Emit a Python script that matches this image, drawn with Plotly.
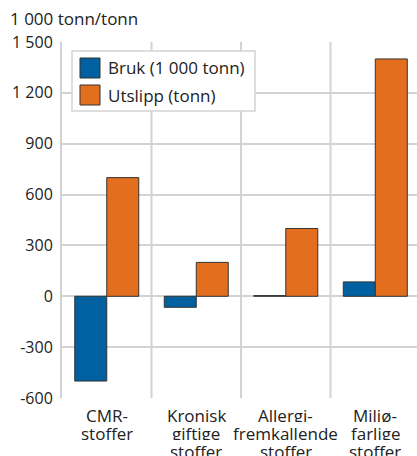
import plotly.graph_objects as go

categories = ["CMR-stoffer", "Kronisk giftige stoffer", "Allergifremkallende stoffer", "Miljøfarlige stoffer"]
category_lines = [["CMR-", "stoffer"], ["Kronisk", "giftige", "stoffer"],
                  ["Allergi-", "fremkallende", "stoffer"], ["Miljø-", "farlige", "stoffer"]]
series_names = ["Bruk (1 000 tonn)", "Utslipp (tonn)"]
bruk = [-500, -65, 4, 85]
utslipp = [700, 200, 400, 1400]
y_tickvals = [-600, -300, 0, 300, 600, 900, 1200, 1500]
y_ticktext = ["-600", "-300", "0", "300", "600", "900", "1 200", "1 500"]
unit_label = "1 000 tonn/tonn"

FONT = "Open Sans, Noto Sans, sans-serif"
GRID = "#d3d3d3"
TXT = "#222222"
COLORS = ["#0060a0", "#e36f1e"]
W, H = 417, 456
L, R, T, B = 62, 0, 42, 58
PW, PH = W - L - R, H - T - B


def px(xp):
    """window pixel x -> paper x"""
    return (xp - L) / PW


def py(yp):
    """window pixel y -> paper y"""
    return (H - B - yp) / PH


fig = go.Figure()
for name, vals, col in zip(series_names, [bruk, utslipp], COLORS):
    fig.add_trace(go.Bar(x=categories, y=vals, name=name, showlegend=False,
                         marker=dict(color=col, line=dict(color="#333333", width=1))))

# vertical separators between categories
for xv in [0.5, 1.5, 2.5, 3.5]:
    fig.add_shape(type="line", xref="x", yref="paper", x0=xv, x1=xv, y0=0, y1=1,
                  line=dict(color=GRID, width=2), layer="below")

# category labels, one annotation per line for tight line spacing
for cat, lines in zip(categories, category_lines):
    for i, line in enumerate(lines):
        fig.add_annotation(text=line, xref="x", yref="paper", x=cat, y=0,
                           xanchor="center", yanchor="middle", yshift=-17 - 18 * i,
                           height=14, borderpad=0, showarrow=False,
                           font=dict(family=FONT, size=17, color=TXT))

# unit label
fig.add_annotation(text=unit_label, xref="paper", yref="paper", x=px(8), y=py(19),
                   xanchor="left", yanchor="middle", showarrow=False,
                   font=dict(family=FONT, size=17, color=TXT))

# custom legend
fig.add_shape(type="rect", xref="paper", yref="paper", x0=px(72), x1=px(255), y0=py(111), y1=py(51),
              fillcolor="white", line=dict(color=GRID, width=1.5), layer="above")
for k, (name, col) in enumerate(zip(series_names, COLORS)):
    cy = 68 + 27 * k
    fig.add_shape(type="rect", xref="paper", yref="paper", x0=px(80), x1=px(100),
                  y0=py(cy + 10), y1=py(cy - 10), fillcolor=col,
                  line=dict(color="#333333", width=1), layer="above")
    fig.add_annotation(text=name, xref="paper", yref="paper", x=px(106), y=py(cy),
                       xanchor="left", yanchor="middle", showarrow=False,
                       font=dict(family=FONT, size=17, color=TXT))

fig.update_layout(
    width=W, height=H,
    margin=dict(l=L, r=R, t=T, b=B, autoexpand=False),
    paper_bgcolor="white", plot_bgcolor="white",
    barmode="group", bargap=0.285, bargroupgap=0,
    font=dict(family=FONT, size=16, color=TXT),
    showlegend=False,
)
fig.update_xaxes(range=[-0.5, 3.466], showgrid=False, showline=False, zeroline=False,
                 ticks="", showticklabels=False, automargin=False)
fig.update_yaxes(range=[-600, 1500], tickvals=y_tickvals, ticktext=y_ticktext,
                 showgrid=True, gridcolor=GRID, gridwidth=2,
                 zeroline=True, zerolinecolor=GRID, zerolinewidth=2,
                 showline=True, linecolor=GRID, linewidth=2,
                 ticks="", ticklabelstandoff=4, automargin=False,
                 tickfont=dict(family=FONT, size=16, color=TXT))

fig.write_html("out.html", config={"displayModeBar": False},
               post_script="document.body.style.margin='0';"
                           "document.documentElement.style.overflow='hidden';"
                           "document.body.style.overflow='hidden';")
